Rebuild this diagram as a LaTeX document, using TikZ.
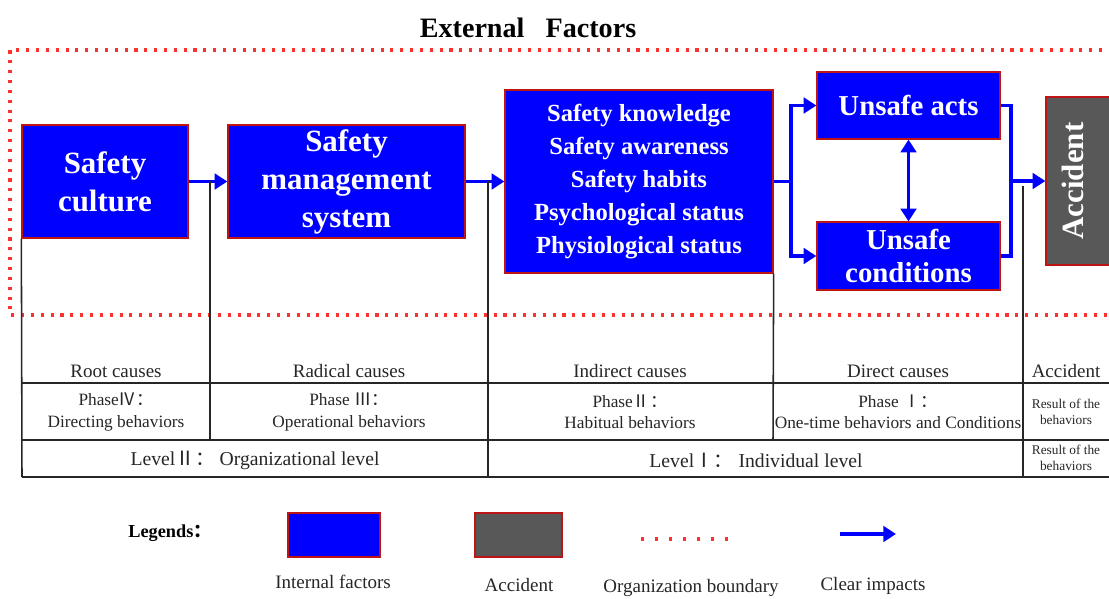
\documentclass[tikz,border=0pt]{standalone}
\usepackage{fontspec}
\setmainfont{Liberation Serif}
\newfontfamily\cjk{Noto Sans CJK SC}
\usetikzlibrary{arrows.meta}
\definecolor{inblue}{RGB}{0,0,255}
\definecolor{accgray}{RGB}{88,88,88}
\definecolor{edgered}{RGB}{190,20,20}
\definecolor{dotred}{RGB}{250,50,50}
\tikzset{
box1/.style={draw=edgered, line width=0.9pt, rectangle, fill=inblue, text=white, align=center, inner sep=0pt},
box2/.style={draw=edgered, line width=0.9pt, rectangle, fill=accgray, text=white, inner sep=0pt},
impact/.style={draw=inblue, line width=2.6pt, -{Triangle[length=9pt,width=11pt]}},
impact2/.style={draw=inblue, line width=2.6pt, {Triangle[length=9pt,width=11pt]}-{Triangle[length=9pt,width=11pt]}},
flow/.style={draw=inblue, line width=2.6pt},
bound/.style={draw=dotred, line width=2.2pt, dash pattern=on 2.2pt off 4.8pt},
bound2/.style={draw=dotred, line width=2.4pt, dash pattern=on 2.4pt off 7.5pt},
grid/.style={draw=black!85, line width=1.1pt},
cell/.style={text=black!85, align=center, font=\fontsize{13}{15}\selectfont},
}
\begin{document}
\begin{tikzpicture}[x=0.025cm, y=-0.025cm]
\useasboundingbox (0,0) rectangle (1109,598);

\node[font=\fontsize{20}{24}\selectfont\bfseries] (title) at (528,28) {External\enspace\ Factors};
\draw[bound] (1112,50) -- (10,50) -- (10,315) -- (1112,315);

\node[box1, minimum width=4.15cm, minimum height=2.825cm, font=\fontsize{22}{27}\selectfont\bfseries] (culture) at (105,181.5) {Safety\\culture};
\node[box1, minimum width=5.925cm, minimum height=2.825cm, font=\fontsize{22}{27}\selectfont\bfseries] (sms) at (346.5,181.5) {Safety\\management\\system};
\node[box1, minimum width=6.7cm, minimum height=4.575cm, font=\fontsize{17.5}{23.5}\selectfont\bfseries] (indiv) at (639,181.5) {Safety knowledge\\Safety awareness\\Safety habits\\Psychological status\\Physiological status};
\node[box1, minimum width=4.575cm, minimum height=1.675cm, font=\fontsize{20.5}{24}\selectfont\bfseries] (acts) at (908.5,105.5) {Unsafe acts};
\node[box1, minimum width=4.575cm, minimum height=1.7cm, font=\fontsize{20.5}{24}\selectfont\bfseries] (cond) at (908.5,256) {Unsafe\\conditions};
\node[box2, minimum width=1.7cm, minimum height=4.2cm] (acc) at (1080,181) {};
\node[rotate=90, text=white, font=\fontsize{22}{26}\selectfont\bfseries] (acclabel) at (1073,181) {Accident};

\draw[impact] (culture.east) -- (sms.west);
\draw[impact] (sms.east) -- (indiv.west);
\draw[flow] (indiv.east) -- ++(17,0) coordinate (split);
\draw[impact] (split) |- (acts.west);
\draw[impact] (split) |- (cond.west);
\draw[flow] (acts.east) -- ++(10,0) coordinate (merge) |- (cond.east);
\coordinate (join) at (merge |- acc.west);
\draw[impact] (join) -- (acc.west);
\draw[impact2] (acts.south) -- (cond.north);

\draw[grid] (culture.south west) -- (22,477);
\draw[grid] (210,181) -- (210,440);
\draw[grid] (488,181) -- (488,477);
\draw[grid] (indiv.south east) -- (773,440);
\draw[grid] (1023,186) -- (1023,477);
\draw[grid] (22,383) -- (1112,383);
\draw[grid] (22,440) -- (1112,440);
\draw[grid] (22,477) -- (1112,477);

\node[cell, font=\fontsize{13.5}{15}\selectfont] (root) at (116,371) {Root causes};
\node[cell, font=\fontsize{13.5}{15}\selectfont] (radical) at (349,371) {Radical causes};
\node[cell, font=\fontsize{13.5}{15}\selectfont] (indirect) at (630,371) {Indirect causes};
\node[cell, font=\fontsize{13.5}{15}\selectfont] (direct) at (898,371) {Direct causes};
\node[cell, font=\fontsize{13.5}{15}\selectfont] (acchead) at (1066,371) {Accident};

\node[cell, font=\fontsize{12.3}{15}\selectfont] (ph4) at (116,412) {Phase{\cjk Ⅳ：}\\Directing behaviors};
\node[cell, font=\fontsize{12.3}{15}\selectfont] (ph3) at (349,412) {Phase {\cjk Ⅲ：}\\Operational behaviors};
\node[cell, font=\fontsize{12.3}{15}\selectfont] (ph2) at (630,412) {Phase{\cjk Ⅱ：}\\Habitual behaviors};
\node[cell, font=\fontsize{12.3}{15}\selectfont] (ph1) at (898,412) {Phase {\cjk Ⅰ：}\\One-time behaviors and Conditions};
\node[cell, font=\fontsize{9.5}{11.5}\selectfont] (res1) at (1066,412) {Result of the\\behaviors};

\node[cell, font=\fontsize{14}{16}\selectfont] (lev2) at (255,460) {Level{\cjk Ⅱ：} Organizational level};
\node[cell, font=\fontsize{14}{16}\selectfont] (lev1) at (756,460) {Level{\cjk Ⅰ：} Individual level};
\node[cell, font=\fontsize{9.5}{11.5}\selectfont] (res2) at (1066,458) {Result of the\\behaviors};

\node[font=\fontsize{13}{15}\selectfont\bfseries] (legends) at (170,533) {Legends{\cjk ：}};
\node[box1, minimum width=2.3cm, minimum height=1.1cm] (leg1) at (334,535) {};
\node[box2, minimum width=2.175cm, minimum height=1.1cm] (leg2) at (518.5,535) {};
\coordinate (dotA) at (641,539);
\coordinate (dotB) at (738,539);
\draw[bound2] (dotA) -- (dotB);
\coordinate (arrA) at (840,534);
\coordinate (arrB) at (896,534);
\draw[impact] (arrA) -- (arrB);
\node[cell, font=\fontsize{13.5}{15}\selectfont] (lab1) at (333,582) {Internal factors};
\node[cell, font=\fontsize{13.5}{15}\selectfont] (lab2) at (519,585) {Accident};
\node[cell, font=\fontsize{13.5}{15}\selectfont] (lab3) at (691,588) {Organization boundary};
\node[cell, font=\fontsize{13.5}{15}\selectfont] (lab4) at (873,586) {Clear impacts};
\end{tikzpicture}
\end{document}
